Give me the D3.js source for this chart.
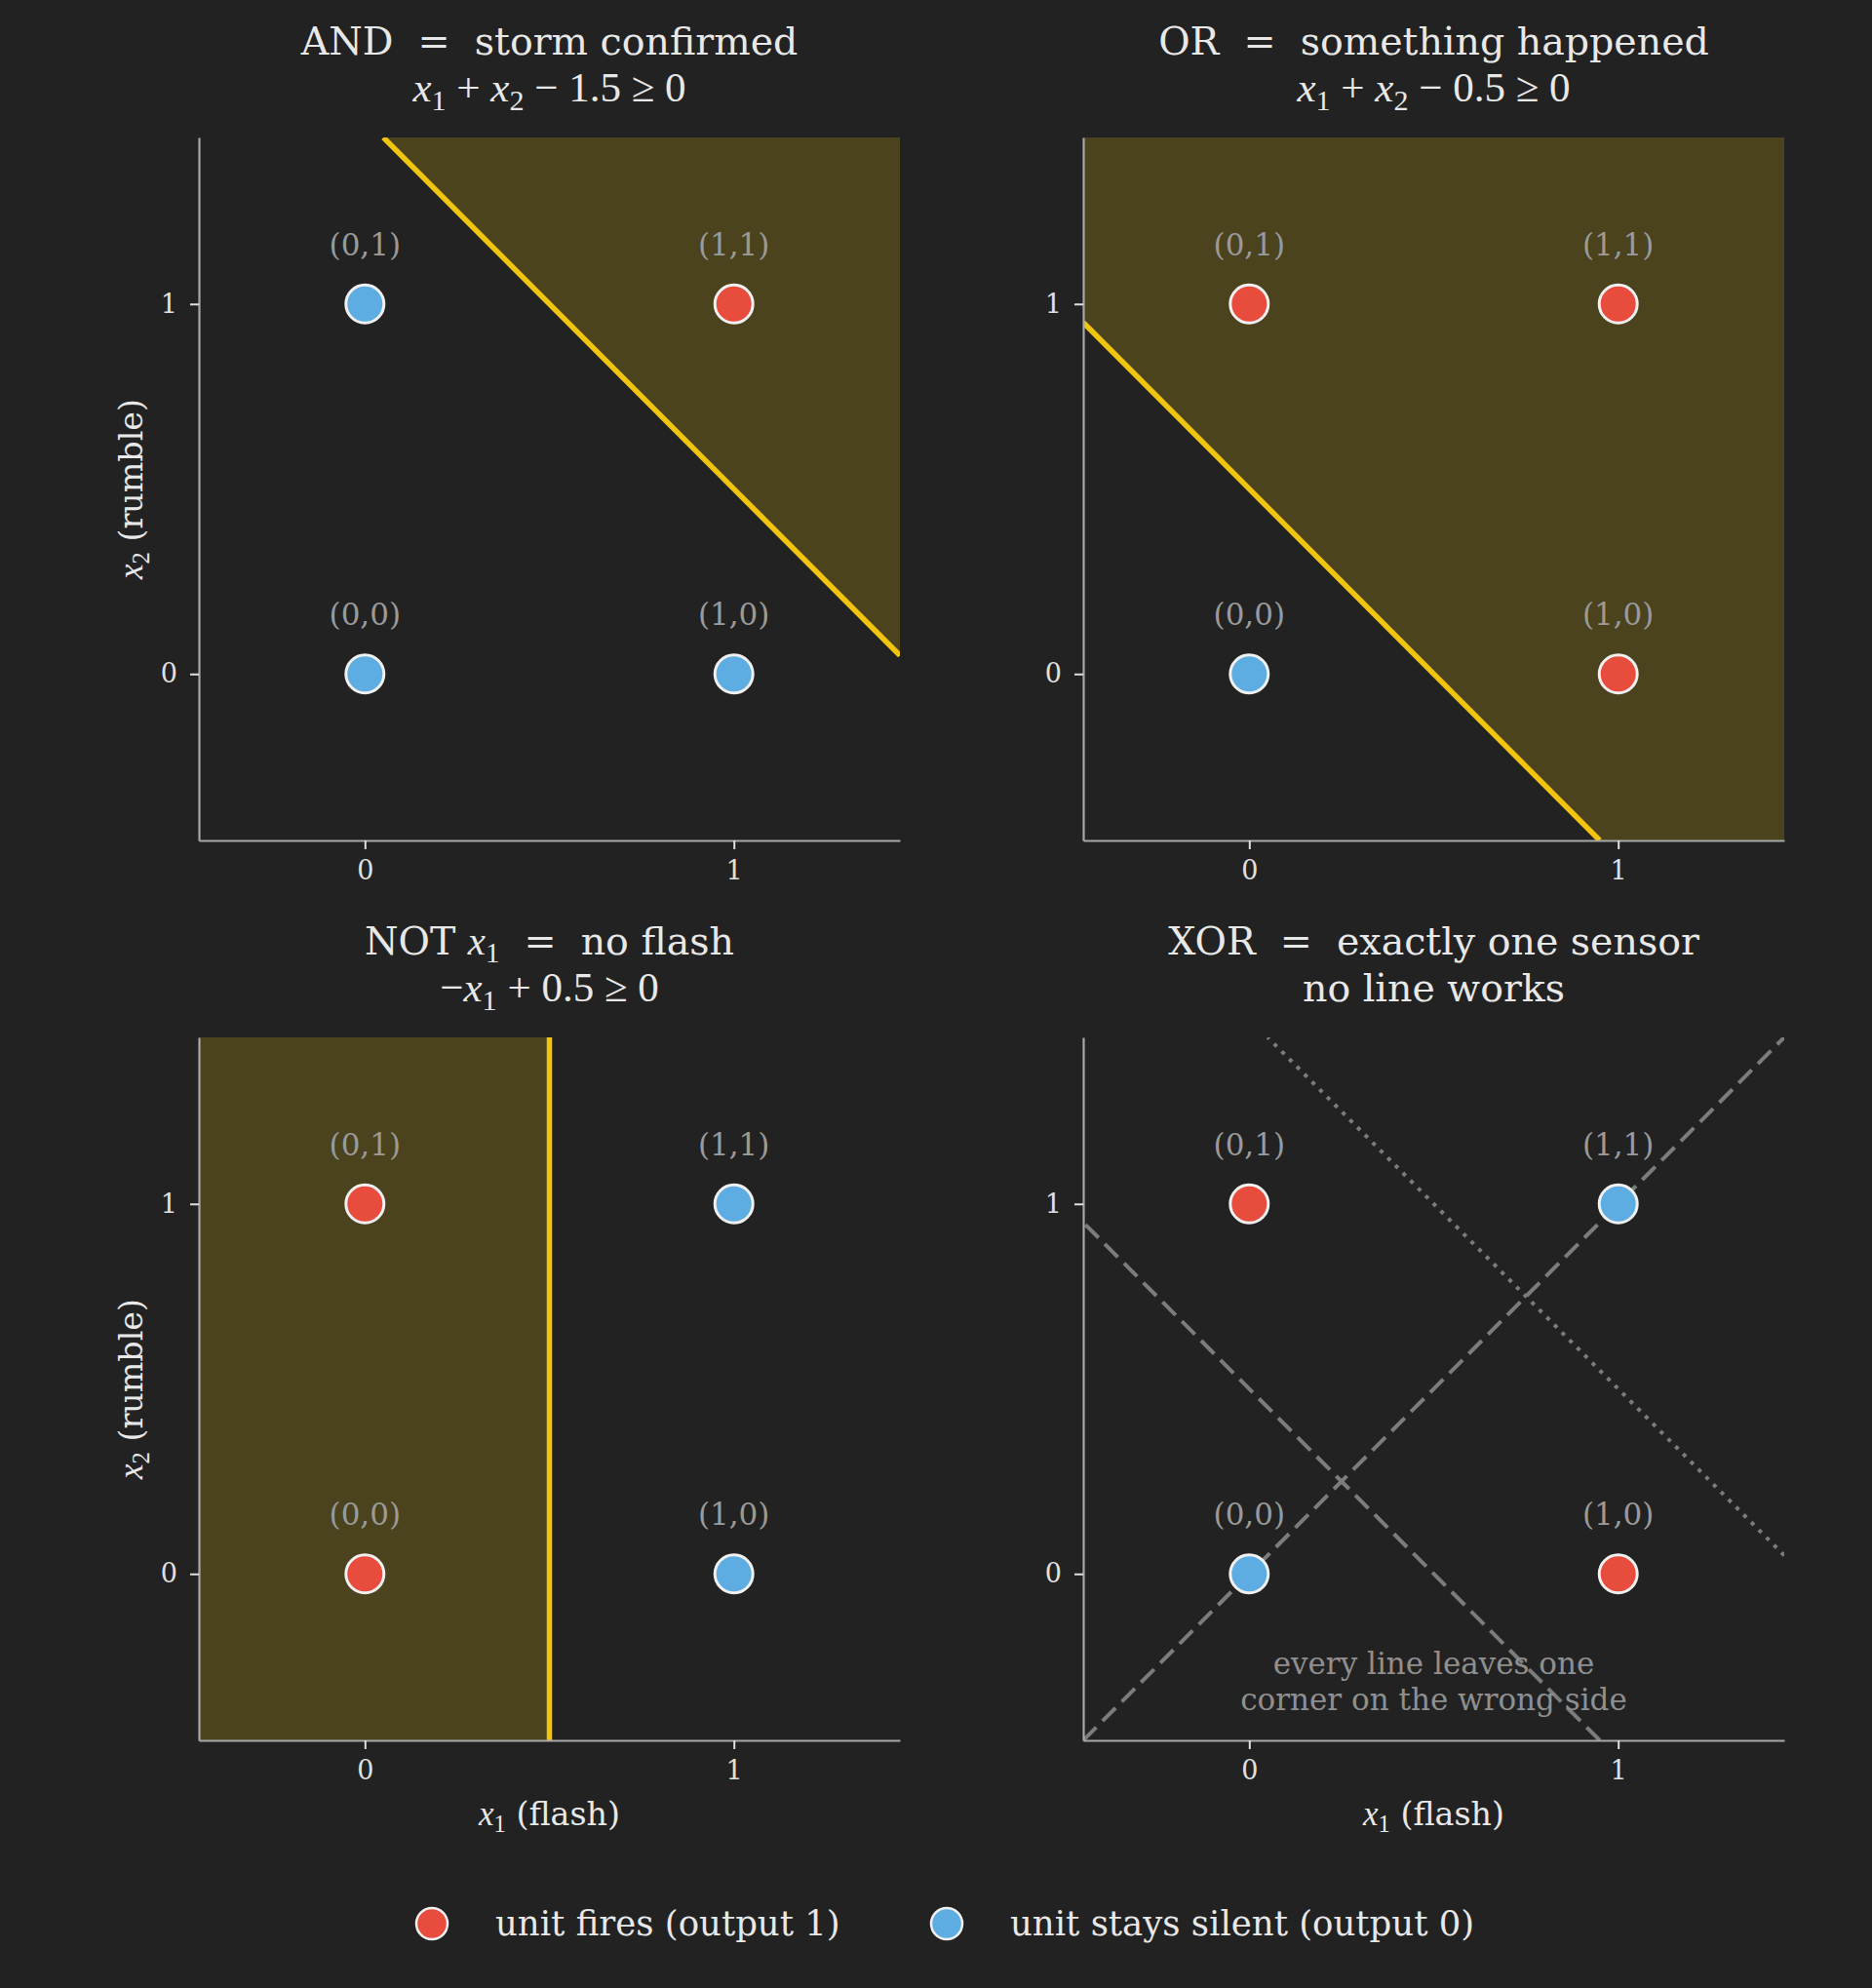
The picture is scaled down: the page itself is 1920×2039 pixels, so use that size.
<!DOCTYPE html>
<html><head><meta charset="utf-8">
<script src="https://cdn.jsdelivr.net/npm/d3@7"></script>
<style>
html,body{margin:0;padding:0;background:#222222;}
svg text{white-space:pre;}
</style></head><body>
<svg id="chart" width="1920" height="2039" xmlns="http://www.w3.org/2000/svg"></svg>
<script>
// ---------------- data ----------------
const axisDomain = [-0.45, 1.45];
const tickValues = [0, 1];
const inputs = [[0,0],[0,1],[1,0],[1,1]];
const pointLabels = ["(0,0)","(0,1)","(1,0)","(1,1)"];
const andOutputs = [0,0,0,1];
const orOutputs  = [0,1,1,1];
const notOutputs = [1,1,0,0];
const xorOutputs = [0,1,1,0];
// weights [w1, w2, bias]  :  w1*x1 + w2*x2 + bias >= 0
const andWeights = [1, 1, -1.5];
const orWeights  = [1, 1, -0.5];
const notWeights = [-1, 0, 0.5];
const xorTrialLines  = [[-1, 1, 0], [1, 1, -0.5], [1, 1, -1.5]];
const xorTrialStyles = ["dashed", "dashed", "dotted"];
const panelTitles = ["AND  =  storm confirmed", "OR  =  something happened", "NOT $x_1$  =  no flash", "XOR  =  exactly one sensor"];
const panelSubtitles = ["$x_1 + x_2 - 1.5 ≥ 0$", "$x_1 + x_2 - 0.5 ≥ 0$", "$-x_1 + 0.5 ≥ 0$", "no line works"];
const xorNote = ["every line leaves one", "corner on the wrong side"];
const xorNotePos = [0.5, -0.3];
const xLabel = "$x_1$ (flash)";
const yLabel = "$x_2$ (rumble)";
const legendLabels = ["unit fires (output 1)", "unit stays silent (output 0)"];
const legendOutputs = [1, 0];

// ---------------- styles ----------------
const BG = "#222222";
const FIRE = "#e74c3c", SILENT = "#5dade2";
const GOLD = "#f1c40f";
const TEXT = "#e8e8e8";
const SERIF = "'DejaVu Serif', serif";
const MATH = "'Liberation Serif', serif";

const svg = d3.select("#chart");
svg.append("rect").attr("width",1920).attr("height",2039).attr("fill",BG);

const PW = 719, PH = 721;
const origins = [[204,141],[1111,141],[204,1064],[1111,1064]];

const panels = [
  {outputs: andOutputs, weights: andWeights},
  {outputs: orOutputs, weights: orWeights},
  {outputs: notOutputs, weights: notWeights},
  {outputs: xorOutputs, weights: null}
];

// --------------- rich text (simple $math$ support) ---------------
function mathTokens(s){
  s = s.replace(/\s+/g,'');
  const toks = [];
  for (let i=0;i<s.length;i++){
    const c = s[i];
    if (c === '_'){ toks.push({t:s[i+1], k:'sub'}); i++; continue; }
    if (/[a-zA-Z]/.test(c)){ toks.push({t:c,k:'it'}); continue; }
    if ('+-=≥'.includes(c)){
      const t = c==='-' ? '−' : c;
      toks.push({t: toks.length===0 ? t : ' '+t+' ', k:'op'});
      continue;
    }
    const last = toks[toks.length-1];
    if (last && last.k==='rm') last.t += c; else toks.push({t:c,k:'rm'});
  }
  return toks;
}
function rich(textSel, str, size, mathSize){
  mathSize = mathSize || size*1.04;
  const parts = str.split('$');
  let shift = 0;
  parts.forEach((p,i)=>{
    if (i%2===0){
      if (!p) return;
      const ts = textSel.append("tspan").attr("font-family",SERIF).attr("font-size",size).text(p);
      if (shift){ ts.attr("dy",-shift); shift=0; }
    } else {
      mathTokens(p).forEach(tok=>{
        const ts = textSel.append("tspan").attr("font-family",MATH).text(tok.t);
        if (tok.k==='sub'){
          const fs = mathSize*0.7, d = mathSize*0.2;
          ts.attr("font-size",fs).attr("dy", d - shift); shift = d;
        } else {
          ts.attr("font-size",mathSize);
          if (tok.k==='it') ts.attr("font-style","italic");
          if (shift){ ts.attr("dy",-shift); shift=0; }
        }
      });
    }
  });
}

// --------------- geometry helpers ---------------
const f = (w,p) => w[0]*p[0] + w[1]*p[1] + w[2];
const rectPts = [[axisDomain[0],axisDomain[0]],[axisDomain[1],axisDomain[0]],[axisDomain[1],axisDomain[1]],[axisDomain[0],axisDomain[1]]];
function clipHalf(w){
  const out=[];
  for (let i=0;i<rectPts.length;i++){
    const a=rectPts[i], b=rectPts[(i+1)%rectPts.length];
    const fa=f(w,a), fb=f(w,b);
    if (fa>=0) out.push(a);
    if ((fa>=0)!==(fb>=0)){
      const t=fa/(fa-fb);
      out.push([a[0]+t*(b[0]-a[0]), a[1]+t*(b[1]-a[1])]);
    }
  }
  return out;
}
function clipLine(w){
  const pts=[];
  for (let i=0;i<rectPts.length;i++){
    const a=rectPts[i], b=rectPts[(i+1)%rectPts.length];
    const fa=f(w,a), fb=f(w,b);
    if (Math.abs(fa)<1e-12) pts.push(a);
    else if (fa*fb<0){ const t=fa/(fa-fb); pts.push([a[0]+t*(b[0]-a[0]), a[1]+t*(b[1]-a[1])]); }
  }
  const uniq=[];
  pts.forEach(p=>{ if(!uniq.some(q=>Math.hypot(q[0]-p[0],q[1]-p[1])<1e-9)) uniq.push(p); });
  return uniq.slice(0,2);
}

// --------------- panels ---------------
panels.forEach((pc, idx)=>{
  const [ox, oy] = origins[idx];
  const x = d3.scaleLinear().domain(axisDomain).range([0, PW]);
  const y = d3.scaleLinear().domain(axisDomain).range([PH, 0]);
  const g = svg.append("g").attr("transform",`translate(${ox},${oy})`);
  const clipId = "clip"+idx;
  g.append("clipPath").attr("id",clipId).append("rect").attr("width",PW).attr("height",PH);
  const plot = g.append("g").attr("clip-path",`url(#${clipId})`);
  const line = d3.line().x(d=>x(d[0])).y(d=>y(d[1]));

  if (pc.weights){
    plot.append("path").attr("d", line(clipHalf(pc.weights))+"Z")
      .attr("fill",GOLD).attr("fill-opacity",0.2);
    plot.append("path").attr("d", line(clipLine(pc.weights)))
      .attr("stroke",GOLD).attr("stroke-width",5.5).attr("fill","none");
  } else {
    xorTrialLines.forEach((w,i)=>{
      plot.append("path").attr("d", line(clipLine(w)))
        .attr("stroke","#7c7c7c").attr("stroke-width",4).attr("fill","none")
        .attr("stroke-dasharray", xorTrialStyles[i]==="dashed" ? "19,9" : "4,7");
    });
    const nt = g.append("text").attr("text-anchor","middle").attr("fill","#8f8f8f")
      .attr("font-family",SERIF).attr("font-size",31);
    xorNote.forEach((s,i)=>{
      nt.append("tspan").attr("x",x(xorNotePos[0])).attr("y",y(xorNotePos[1]) - 11 + i*37).text(s);
    });
  }

  // axes
  const xa = g.append("g").attr("transform",`translate(0,${PH})`)
    .call(d3.axisBottom(x).tickValues(tickValues).tickSize(9).tickSizeOuter(0).tickPadding(12).tickFormat(d3.format("d")));
  const ya = g.append("g")
    .call(d3.axisLeft(y).tickValues(tickValues).tickSize(9).tickSizeOuter(0).tickPadding(13).tickFormat(d3.format("d")));
  [xa,ya].forEach(a=>{
    a.select(".domain").attr("stroke","#a8a8a8").attr("stroke-width",2.2);
    a.selectAll(".tick line").attr("stroke","#e0e0e0").attr("stroke-width",2);
    a.selectAll(".tick text").attr("fill","#e0e0e0").attr("font-family",SERIF).attr("font-size",27);
  });

  // points
  g.selectAll("circle.pt").data(inputs).join("circle").attr("class","pt")
    .attr("cx",d=>x(d[0])).attr("cy",d=>y(d[1])).attr("r",19.5)
    .attr("fill",(d,i)=>pc.outputs[i] ? FIRE : SILENT)
    .attr("stroke","#f0f0f0").attr("stroke-width",3);
  g.selectAll("text.pl").data(inputs).join("text").attr("class","pl")
    .attr("x",d=>x(d[0])).attr("y",d=>y(d[1])-50)
    .attr("text-anchor","middle").attr("fill","#9a9a9a")
    .attr("font-family",SERIF).attr("font-size",31)
    .text((d,i)=>pointLabels[i]);

  // titles
  const t1 = g.append("text").attr("x",PW/2).attr("y",-85).attr("text-anchor","middle").attr("fill",TEXT);
  rich(t1, panelTitles[idx], 39.5, 41);
  const t2 = g.append("text").attr("x",PW/2).attr("y",-37).attr("text-anchor","middle").attr("fill",TEXT);
  rich(t2, panelSubtitles[idx], 39.5, 43);

  // axis labels
  if (idx>=2){
    const xl = g.append("text").attr("x",PW/2).attr("y",PH+87).attr("text-anchor","middle").attr("fill",TEXT);
    rich(xl, xLabel, 33.3, 35);
  }
  if (idx%2===0){
    const yl = g.append("text").attr("transform",`translate(-58,${PH/2}) rotate(-90)`).attr("text-anchor","middle").attr("fill",TEXT);
    rich(yl, yLabel, 33.3, 35);
  }
});

// --------------- legend ---------------
const legX = [443, 971];
legendLabels.forEach((lab,i)=>{
  svg.append("circle").attr("cx",legX[i]).attr("cy",1973).attr("r",16)
    .attr("fill", legendOutputs[i] ? FIRE : SILENT).attr("stroke","#f0f0f0").attr("stroke-width",2.5);
  svg.append("text").attr("x",legX[i]+65).attr("y",1985).attr("fill",TEXT)
    .attr("font-family",SERIF).attr("font-size",35.5).text(lab);
});
</script>
</body></html>
